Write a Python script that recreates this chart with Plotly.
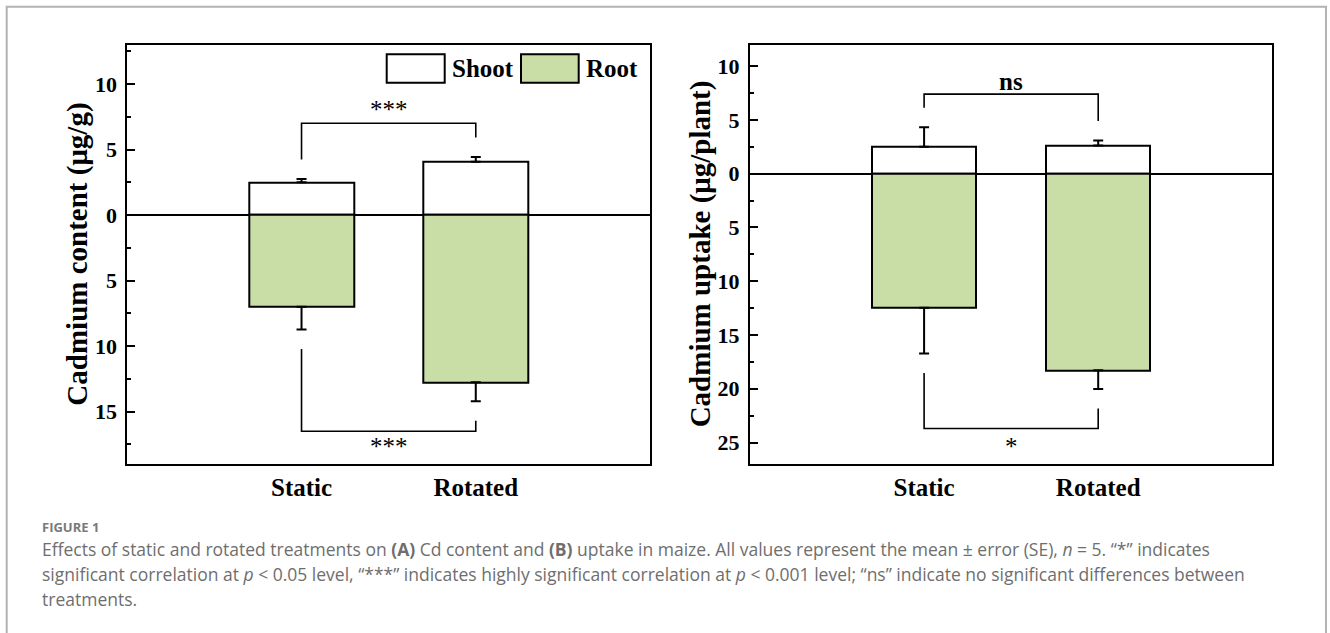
import numpy as np
import plotly.graph_objects as go

# ---------------- data ----------------
categories = ["Static", "Rotated"]
series = ["Shoot", "Root"]

# Panel A: cadmium content (µg/g)
content_shoot = [2.50, 4.07]
content_shoot_err = [0.25, 0.35]
content_root = [7.00, 12.77]
content_root_err = [1.73, 1.45]

# Panel B: cadmium uptake (µg/plant)
uptake_shoot = [2.50, 2.62]
uptake_shoot_err = [1.83, 0.47]
uptake_root = [12.47, 18.28]
uptake_root_err = [4.26, 1.74]

# significance brackets (level of the horizontal bar) and labels
sig_top_level = [7.0, 7.4]
sig_bottom_level = [-16.5, -23.7]
sig_top_labels = ["***", "ns"]
sig_bottom_labels = ["***", "*"]
sig_top_label_y = [8.4, 8.55]
sig_bottom_label_y = [-17.4, -25.1]

y_titles = ["Cadmium content (μg/g)", "Cadmium uptake (μg/plant)"]
y_ranges = [[-19, 13], [-27, 12]]
y_major = [[-15, -10, -5, 0, 5, 10], [-25, -20, -15, -10, -5, 0, 5, 10]]

caption_head = "FIGURE 1"
caption_lines = [
    "Effects of static and rotated treatments on <b>(A)</b> Cd content and <b>(B)</b> uptake in maize. "
    "All values represent the mean ± error (SE), <i>n</i> = 5. “*” indicates",
    "significant correlation at <i>p</i> &lt; 0.05 level, “***” indicates highly significant correlation at "
    "<i>p</i> &lt; 0.001 level; “ns” indicate no significant differences between",
    "treatments.",
]

# ---------------- layout helpers ----------------
W, H = 1330, 633
SERIF = "Times New Roman, Liberation Serif, serif"
GREEN = "#c9dea6"


def px(x):
    return x / W


def py(y):
    return 1 - y / H


plot_top, plot_bot = 44.7, 464.0
x_domains = [[127.3, 650.0], [750.0, 1272.3]]

fig = go.Figure()
shapes = []
annotations = []

panels = [
    (content_shoot, content_shoot_err, content_root, content_root_err),
    (uptake_shoot, uptake_shoot_err, uptake_root, uptake_root_err),
]

leg_gap_px = 19.5
for i, (sh, she, rt, rte) in enumerate(panels):
    xa = "x" if i == 0 else "x2"
    ya = "y" if i == 0 else "y2"
    fig.add_trace(go.Bar(
        x=categories, y=sh, width=0.6, name=series[0], showlegend=False,
        marker=dict(color="white", line=dict(color="black", width=2)),
        error_y=dict(type="data", symmetric=False, array=she, arrayminus=[0] * len(sh),
                     color="black", thickness=2, width=5),
        xaxis=xa, yaxis=ya, hoverinfo="skip"))
    fig.add_trace(go.Bar(
        x=categories, y=[-v for v in rt], width=0.6, name=series[1], showlegend=False,
        marker=dict(color=GREEN, line=dict(color="black", width=2)),
        error_y=dict(type="data", symmetric=False, array=[0] * len(rt), arrayminus=rte,
                     color="black", thickness=2, width=5),
        xaxis=xa, yaxis=ya, hoverinfo="skip"))

    # brackets
    unit_px = (plot_bot - plot_top) / (y_ranges[i][1] - y_ranges[i][0])
    gap = leg_gap_px / unit_px
    top_ends = [s + e + gap for s, e in zip(sh, she)]
    bot_ends = [-(r + e + gap) for r, e in zip(rt, rte)]
    fig.add_trace(go.Scatter(
        x=[categories[0], categories[0], categories[1], categories[1]],
        y=[top_ends[0], sig_top_level[i], sig_top_level[i], top_ends[1]],
        mode="lines", line=dict(color="black", width=1.6), showlegend=False,
        hoverinfo="skip", xaxis=xa, yaxis=ya))
    fig.add_trace(go.Scatter(
        x=[categories[0], categories[0], categories[1], categories[1]],
        y=[bot_ends[0], sig_bottom_level[i], sig_bottom_level[i], bot_ends[1]],
        mode="lines", line=dict(color="black", width=1.6), showlegend=False,
        hoverinfo="skip", xaxis=xa, yaxis=ya))

    star_top = sig_top_labels[i].startswith("*")
    annotations.append(dict(
        x=0.5, y=sig_top_label_y[i], xref=xa, yref=ya, text=sig_top_labels[i], showarrow=False,
        yshift=-5 if star_top else 0,
        font=dict(family=SERIF, size=25, color="black",
                  weight="normal" if star_top else "bold")))
    annotations.append(dict(
        x=0.5, y=sig_bottom_label_y[i], xref=xa, yref=ya, text=sig_bottom_labels[i],
        showarrow=False, yshift=-3,
        font=dict(family=SERIF, size=25, color="black")))

    # y-axis title
    annotations.append(dict(
        x=px(x_domains[i][0] - 50), y=py((plot_top + plot_bot) / 2), xref="paper", yref="paper",
        text=y_titles[i], textangle=-90, showarrow=False, xanchor="center", yanchor="middle",
        font=dict(family=SERIF, size=29, color="black", weight="bold")))

    lo, hi = y_ranges[i]
    minor_vals = [v for v in np.arange(np.ceil(lo / 2.5) * 2.5, hi + 0.01, 2.5) if v % 5 != 0]
    yaxis = dict(
        domain=[py(plot_bot), py(plot_top)], range=y_ranges[i], anchor=xa,
        tickmode="array", tickvals=y_major[i], ticktext=[str(abs(v)) for v in y_major[i]],
        ticks="inside", ticklen=8, tickwidth=1.5, tickcolor="black", ticklabelstandoff=4,
        minor=dict(tickmode="array", tickvals=minor_vals, ticks="inside", ticklen=4,
                   tickwidth=1.5, tickcolor="black", showgrid=False),
        showline=True, mirror=True, linecolor="black", linewidth=2,
        showgrid=False, zeroline=True, zerolinecolor="black", zerolinewidth=2,
        tickfont=dict(family=SERIF, size=22, color="black", weight="bold"), fixedrange=True)
    xaxis = dict(
        domain=[px(x_domains[i][0]), px(x_domains[i][1])], range=[-1, 2], type="category",
        anchor=ya, ticks="", showline=True, mirror=True, linecolor="black", linewidth=2,
        showgrid=False, tickfont=dict(family=SERIF, size=25, color="black", weight="bold"),
        ticklabelstandoff=0, fixedrange=True)
    if i == 0:
        fig.update_layout(xaxis=xaxis, yaxis=yaxis)
    else:
        fig.update_layout(xaxis2=xaxis, yaxis2=yaxis)

# manual legend (large swatches as in the original)
legend_boxes = [(386.7, 444.7), (521.0, 578.7)]
legend_fill = ["white", GREEN]
for (x0, x1), name, fill in zip(legend_boxes, series, legend_fill):
    shapes.append(dict(type="rect", xref="paper", yref="paper", x0=px(x0), x1=px(x1),
                       y0=py(82.7), y1=py(54.3), fillcolor=fill,
                       line=dict(color="black", width=2)))
    annotations.append(dict(x=px(x1 + 5), y=py(68.5), xref="paper", yref="paper", text=name,
                            showarrow=False, xanchor="left", yanchor="middle",
                            font=dict(family=SERIF, size=25, color="black", weight="bold")))

# outer frame of the figure
shapes.append(dict(type="rect", xref="paper", yref="paper", x0=px(6.7), x1=px(1326),
                   y0=py(660), y1=py(6.7), line=dict(color="#b3b3b3", width=2),
                   fillcolor="rgba(0,0,0,0)"))

# caption
CAP = "Open Sans, Lato, sans-serif"
annotations.append(dict(x=px(40), y=py(526.7), xref="paper", yref="paper", text="<b>" + caption_head + "</b>",
                        showarrow=False, xanchor="left", yanchor="middle",
                        font=dict(family=CAP, size=13, color="#7a7a7a")))
for k, line in enumerate(caption_lines):
    annotations.append(dict(x=px(40), y=py(548.5 + 25 * k), xref="paper", yref="paper", text=line,
                            showarrow=False, xanchor="left", yanchor="middle",
                            font=dict(family=CAP, size=17.5, color="#6e6e6e")))

fig.update_layout(
    width=W, height=H, autosize=False,
    margin=dict(l=0, r=0, t=0, b=0),
    paper_bgcolor="white", plot_bgcolor="white",
    barmode="overlay", bargap=0,
    shapes=shapes, annotations=annotations,
    showlegend=False,
)

fig.write_html("out.html", config={"displayModeBar": False},
               post_script="document.body.style.margin='0';")
